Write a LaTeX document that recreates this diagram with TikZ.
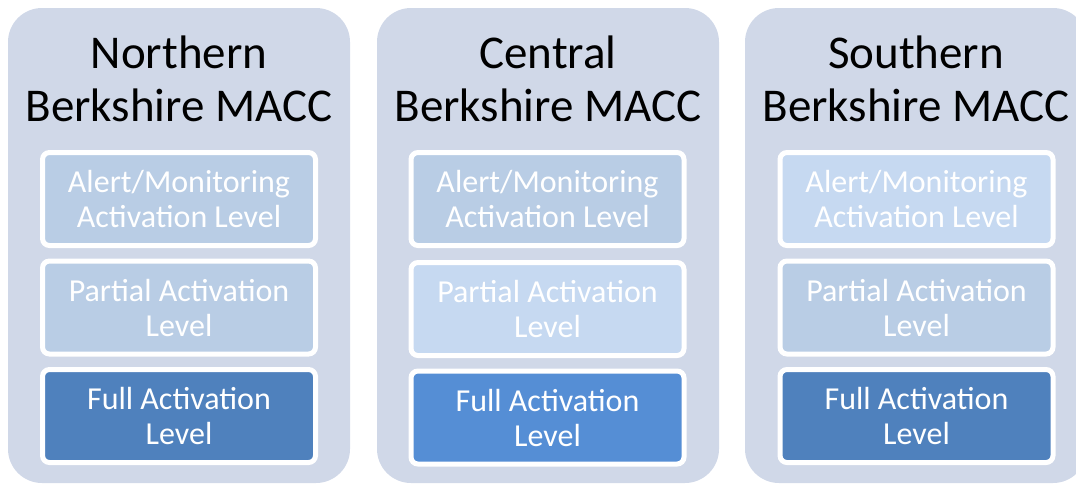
\documentclass[tikz,border=0pt]{standalone}
\usepackage{fontspec}
\setmainfont{Carlito}
\definecolor{panel}{HTML}{D0D8E8}
\definecolor{lvlmid}{HTML}{B9CDE5}
\definecolor{lvllight}{HTML}{C6D9F1}
\definecolor{lvldark}{HTML}{4F81BD}
\definecolor{lvlbright}{HTML}{558ED5}
\begin{document}
\begin{tikzpicture}[x=1pt,y=-1pt,
  panelbox/.style={fill=panel,draw=none,rounded corners=34pt,minimum width=342pt,minimum height=475pt,inner sep=0pt},
  titletext/.style={font=\fontsize{47}{53}\selectfont,align=center,text=black,inner sep=0pt},
  levelbox/.style={draw=white,line width=5pt,rounded corners=7pt,minimum width=273pt,minimum height=93pt,inner sep=0pt,align=center,text=white,font=\fontsize{32}{35}\selectfont}]
\useasboundingbox (0,0) rectangle (1076,485);
\clip (0,0) rectangle (1076,485);
% panels
\node[panelbox] (pn) at (179,245.5) {};
\node[panelbox] (pc) at (548,245.5) {};
\node[panelbox] (ps) at (916,245.5) {};
% titles
\node[titletext] (tn) at (179,79) {Northern\\Berkshire MACC};
\node[titletext] (tc) at (548,79) {Central\\Berkshire MACC};
\node[titletext] (ts) at (916,79) {Southern\\Berkshire MACC};
% northern levels
\node[levelbox,fill=lvlmid] (n1) at (179,199) {Alert/Monitoring\\Activation Level};
\node[levelbox,fill=lvlmid] (n2) at (179,307.5) {Partial Activation\\Level};
\node[levelbox,fill=lvldark] (n3) at (179,416) {Full Activation\\Level};
% central levels
\node[levelbox,fill=lvlmid] (c1) at (547.5,199) {Alert/Monitoring\\Activation Level};
\node[levelbox,fill=lvllight] (c2) at (547.5,309) {Partial Activation\\Level};
\node[levelbox,fill=lvlbright] (c3) at (547.5,417.5) {Full Activation\\Level};
% southern levels
\node[levelbox,fill=lvllight] (s1) at (916.5,199) {Alert/Monitoring\\Activation Level};
\node[levelbox,fill=lvlmid] (s2) at (916.5,307.5) {Partial Activation\\Level};
\node[levelbox,fill=lvldark] (s3) at (916.5,416) {Full Activation\\Level};
\end{tikzpicture}
\end{document}
